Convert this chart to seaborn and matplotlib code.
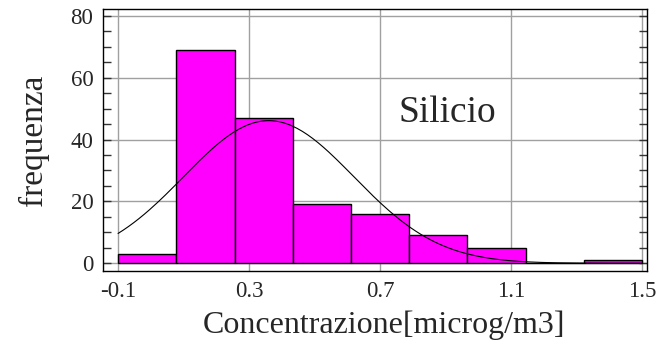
import numpy as np
import pandas as pd
import matplotlib
matplotlib.use("Agg")
import matplotlib.pyplot as plt
import seaborn as sns
from matplotlib.ticker import MultipleLocator, FixedLocator

# Histogram of silicon concentrations: 9 classes between -0.1 and 1.5
bin_lo = -0.1
bin_hi = 1.5
n_bins = 9
counts = [3, 69, 47, 19, 16, 9, 5, 0, 1]

# Fitted normal curve parameters
fit_mean = 0.36
fit_sd = 0.26

x_ticks = [-0.1, 0.3, 0.7, 1.1, 1.5]
x_tick_labels = ["-0.1", "0.3", "0.7", "1.1", "1.5"]
y_ticks = [0, 20, 40, 60, 80]

sns.set_style("white")
plt.rcParams["font.family"] = ["Liberation Serif", "DejaVu Serif"]

edges = np.linspace(bin_lo, bin_hi, n_bins + 1)
centers = (edges[:-1] + edges[1:]) / 2
width = edges[1] - edges[0]
df = pd.DataFrame({"x": centers, "n": np.array(counts, dtype=float)})

fig = plt.figure(figsize=(6.59, 3.41), dpi=100)
ax = fig.add_axes([0.1563, 0.2053, 0.8255, 0.7683])

ax.set_axisbelow(True)
ax.grid(True, color="#a0a0a0", linewidth=1.0)

sns.histplot(data=df, x="x", weights="n", bins=edges.tolist(), ax=ax,
             color="#ff00ff", alpha=1.0, edgecolor="black", linewidth=1.0)

# Normal density scaled to counts per class
total = sum(counts)
xs = np.linspace(bin_lo, bin_hi, 200)
ys = total * width / (fit_sd * np.sqrt(2 * np.pi)) * np.exp(-0.5 * ((xs - fit_mean) / fit_sd) ** 2)
sns.lineplot(x=xs, y=ys, ax=ax, color="black", linewidth=0.8)

ax.set_xlim(-0.146, 1.515)
ax.set_ylim(-2.5, 82.2)
ax.xaxis.set_major_locator(FixedLocator(x_ticks))
ax.set_xticklabels(x_tick_labels)
ax.yaxis.set_major_locator(FixedLocator(y_ticks))
ax.yaxis.set_minor_locator(MultipleLocator(5))
ax.tick_params(axis="x", length=0, labelsize=16.5, pad=7)
ax.tick_params(axis="y", which="both", direction="in", length=6, width=1,
               left=True, right=True, labelsize=16.5, pad=7, color="#333333")

for s in ax.spines.values():
    s.set_color("black")
    s.set_linewidth(1.0)

ax.set_xlabel("Concentrazione[microg/m3]", fontsize=23)
ax.xaxis.set_label_coords(0.517, -0.15)
ax.set_ylabel("frequenza", fontsize=24)
ax.yaxis.set_label_coords(-0.10, 0.5)
ax.text(0.905, 45.7, "Silicio", fontsize=27, va="baseline", ha="center")

fig.savefig("out.png", dpi=100)
